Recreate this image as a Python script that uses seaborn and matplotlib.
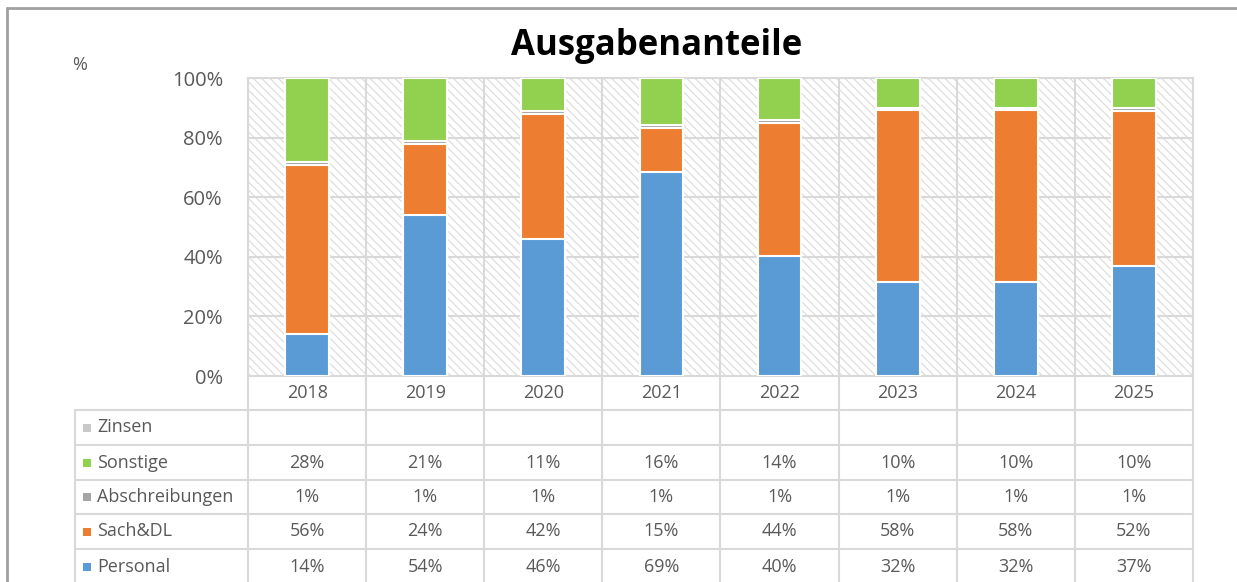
import numpy as np
import pandas as pd
import seaborn as sns
import matplotlib
matplotlib.use("Agg")
from matplotlib import pyplot as plt
from matplotlib.lines import Line2D
from matplotlib.patches import Rectangle
from matplotlib.transforms import blended_transform_factory

# data (shares in % as shown in the data table)
years = ['2018', '2019', '2020', '2021', '2022', '2023', '2024', '2025']
personal = [14, 54, 46, 69, 40, 32, 32, 37]
sach_dl = [56, 24, 42, 15, 44, 58, 58, 52]
abschreibungen = [1, 1, 1, 1, 1, 1, 1, 1]
sonstige = [28, 21, 11, 16, 14, 10, 10, 10]
zinsen = [0, 0, 0, 0, 0, 0, 0, 0]

series_names = ['Zinsen', 'Sonstige', 'Abschreibungen', 'Sach&DL', 'Personal']
colors = {'Personal': '#5B9BD5', 'Sach&DL': '#ED7D31', 'Abschreibungen': '#A5A5A5',
          'Sonstige': '#92D050', 'Zinsen': '#C8C8C8'}

sns.set_style("white")
plt.rcParams['font.family'] = ['Open Sans', 'DejaVu Sans']
plt.rcParams['hatch.linewidth'] = 0.8
plt.rcParams['hatch.color'] = '#DADADA'
txt = '#595959'

df = pd.DataFrame({'year': years, 'Personal': personal, 'Sach&DL': sach_dl,
                   'Abschreibungen': abschreibungen, 'Sonstige': sonstige, 'Zinsen': zinsen})
stack_order = ['Personal', 'Sach&DL', 'Abschreibungen', 'Sonstige', 'Zinsen']
total = df[stack_order].sum(axis=1)
cum = df[stack_order].cumsum(axis=1).div(total, axis=0) * 100
for s in stack_order:
    df['cum_' + s] = cum[s]

W, H = 1237, 582
fig = plt.figure(figsize=(W / 100, H / 100), dpi=100)
L, R, T, B = 248, 1193, 78, 376
ax = fig.add_axes([L / W, 1 - B / H, (R - L) / W, (B - T) / H])

# hatched plot area
ax.add_patch(Rectangle((0, 0), 1, 1, transform=ax.transAxes, facecolor='white',
                       hatch='\\\\\\\\', edgecolor='#DADADA', linewidth=0, zorder=0))

# stacked bars: draw cumulative from top to bottom
for s in ['Zinsen', 'Sonstige', 'Abschreibungen', 'Sach&DL', 'Personal']:
    sns.barplot(data=df, x='year', y='cum_' + s, color=colors[s], saturation=1,
                width=0.37, edgecolor='white', linewidth=1.5, ax=ax, zorder=3)

ax.set_xlim(-0.5, 7.5)
ax.set_ylim(0, 100)
ax.set_xlabel('')
ax.set_ylabel('')
ax.set_yticks([0, 20, 40, 60, 80, 100])
ax.set_yticklabels(['0%', '20%', '40%', '60%', '80%', '100%'], fontsize=14.5, color=txt)
ax.tick_params(axis='y', length=0, pad=18)
ax.set_xticks([])
for y in [20, 40, 60, 80, 100]:
    ax.axhline(y, color='#D9D9D9', lw=1.5, zorder=1)
for x in np.arange(-0.5, 8, 1):
    ax.axvline(x, color='#D9D9D9', lw=1.5, zorder=1)
for sp in ax.spines.values():
    sp.set_color('#D9D9D9')
    sp.set_linewidth(1.5)

# data table below the plot
tr = blended_transform_factory(ax.transData, fig.transFigure)
row_edges = [376, 410, 445, 480, 514, 549, 584]
gcol = '#D9D9D9'
for yp in row_edges[1:]:
    fig.add_artist(Line2D([75 / W, R / W], [1 - yp / H] * 2, color=gcol, lw=1.5))
for x in np.arange(-0.5, 8, 1):
    fig.add_artist(Line2D([x, x], [1 - B / H, 0], transform=tr, color=gcol, lw=1.5))
fig.add_artist(Line2D([75 / W] * 2, [1 - 410 / H, 0], color=gcol, lw=1.5))

for i, yr in enumerate(years):
    fig.text(i, 1 - 393 / H, yr, transform=tr, ha='center', va='center', fontsize=13, color=txt)

table_rows = {'Zinsen': None, 'Sonstige': sonstige, 'Abschreibungen': abschreibungen,
              'Sach&DL': sach_dl, 'Personal': personal}
for r, name in enumerate(series_names):
    yc = 1 - (row_edges[r + 1] + row_edges[r + 2]) / 2 / H
    fig.add_artist(Rectangle((83 / W, yc - 4 / H), 8 / W, 8 / H, facecolor=colors[name],
                             edgecolor='none', transform=fig.transFigure))
    fig.text(97 / W, yc, name, ha='left', va='center', fontsize=13, color=txt)
    vals = table_rows[name]
    if vals is None:
        continue
    for i, v in enumerate(vals):
        fig.text(i, yc, f'{v}%', transform=tr, ha='center', va='center', fontsize=13, color=txt)

fig.text(657 / W, 1 - 46 / H, 'Ausgabenanteile', ha='center', va='center',
         fontsize=25, fontweight='bold', color='black')
fig.text(80 / W, 1 - 65 / H, '%', ha='center', va='center', fontsize=13, color=txt)

# outer chart border
fig.add_artist(Line2D([7 / W, 1], [1 - 8 / H] * 2, color='#A0A0A0', lw=2))
fig.add_artist(Line2D([7 / W] * 2, [1 - 8 / H, 0], color='#A0A0A0', lw=2))

fig.savefig('out.png', dpi=100)
